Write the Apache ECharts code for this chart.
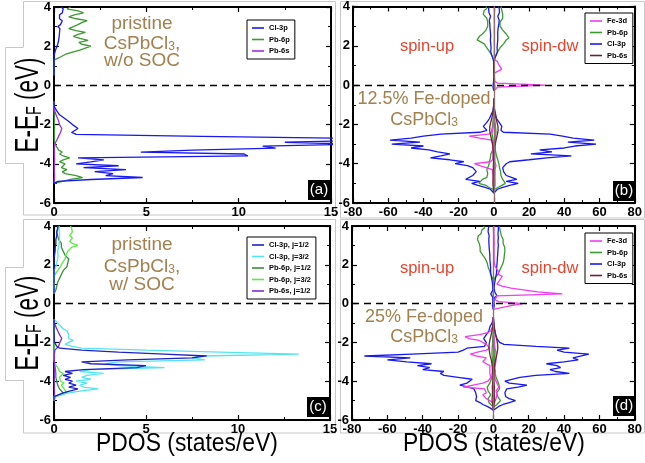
<!DOCTYPE html>
<html>
<head>
<meta charset="utf-8">
<script src="https://cdn.jsdelivr.net/npm/echarts@6/dist/echarts.min.js"></script>
<style>
  html, body { margin: 0; padding: 0; background: #fff; }
  #main { width: 645px; height: 463px; }
</style>
</head>
<body>
<div id="main"></div>
<script>
// energy grids (eV)
const E_VB_AC = [-5.0,-4.9,-4.8,-4.7,-4.6,-4.5,-4.4,-4.3,-4.2,-4.1,-4.0,-3.9,-3.8,-3.7,-3.6,-3.5,-3.4,-3.3,-3.2,-3.1,-3.0,-2.9,-2.8,-2.7,-2.6,-2.5,-2.4,-2.3,-2.2,-2.1,-2.0,-1.9,-1.8,-1.7,-1.6,-1.5,-1.4,-1.3,-1.2,-1.1,-1.0,-0.9,-0.8];
const E_CB_AC = [0.5,0.6,0.7,0.8,0.9,1.0,1.1,1.2,1.3,1.4,1.5,1.6,1.7,1.8,1.9,2.0,2.1,2.2,2.3,2.4,2.5,2.6,2.7,2.8,2.9,3.0,3.1,3.2,3.3,3.4,3.5,3.6,3.7,3.8,3.9,4.0];
const E_VB_BD = [-5.5,-5.4,-5.3,-5.2,-5.1,-5.0,-4.9,-4.8,-4.7,-4.6,-4.5,-4.4,-4.3,-4.2,-4.1,-4.0,-3.9,-3.8,-3.7,-3.6,-3.5,-3.4,-3.3,-3.2,-3.1,-3.0,-2.9,-2.8,-2.7,-2.6,-2.5,-2.4,-2.3,-2.2,-2.1,-2.0,-1.9,-1.8,-1.7,-1.6,-1.5,-1.4,-1.3,-1.2,-1.1,-1.0,-0.9,-0.8,-0.7];
const E_CB_BD = [-0.3,-0.2,-0.1,0.0,0.1,0.2,0.3,0.4,0.5,0.6,0.7,0.8,0.9,1.0,1.1,1.2,1.3,1.4,1.5,1.6,1.7,1.8,1.9,2.0,2.1,2.2,2.3,2.4,2.5,2.6,2.7,2.8,2.9,3.0,3.1,3.2,3.3,3.4,3.5,3.6,3.7,3.8,3.9,4.0];

// (a) pristine, w/o SOC
const a_cl3p_vb = [0,0.2,2.0,4.8,2.8,3.2,2.2,3.9,1.6,3.5, 1.2,2.0,2.7,1.3,10.5,10.3,4.7,7.5,12.0,11.3, 16.5,12.5,17,15.5,8,1.2,0.95,0.9,1.3,1.4, 1.0,0.9,0.75,0.6,0.45,0.3,0.2,0.15,0.08,0.03, 0,0,0];
const a_cl3p_cb = [0,0,0,0,0,0,0,0,0,0,0, 0,0.05,0.1,0.12,0.15,0.2,0.18,0.25,0.2,0.28,0.22,0.3,0.25,0.32,0.2,0.35,0.28,0.45,0.3,0.4,0.3,0.45,0.35,0.5,0.4];
const a_pb6p_vb = [0,0.1,0.9,1.55,1.2,0.6,0.45,0.7,0.4,0.35, 0.6,0.3,0.5,0.85,0.5,0.3,0.45,0.25,0.2,0.12, 0.05,0.03,0.02,0.02,0.02,0.02,0.02,0.02,0.02,0.03, 0.03,0.02,0.02,0.02,0.01,0.01,0,0,0,0, 0,0,0];
const a_pb6p_cb = [0,0,0,0,0,0,0,0, 0.02,0.25,0.45,0.65,1.0,1.4,1.7,2.0,1.5,1.35, 1.85,1.4,1.05,1.3,1.7,1.2,0.8,0.9,1.3,1.5, 1.8,1.2,0.8,1.1,1.6,1.3,0.7,0.9];
const a_pb6s_vb = [0,0,0.02,0.03,0.03,0.02,0.02,0.03,0.02,0.02, 0.02,0.02,0.03,0.02,0.02,0.02,0.02,0.02,0.02,0.02, 0.03,0.08,0.15,0.2,0.25,0.3,0.35,0.38,0.42,0.35, 0.3,0.32,0.25,0.2,0.15,0.1,0.07,0.04,0.02,0, 0,0,0];

// (c) pristine, w/ SOC
const c_cl12_vb = [0,0,0,0.1,0.5,0.9,1.3,0.8,1.2,0.8, 1.0,0.6,0.9,0.5,1.0,0.6,1.6,4.5,5.0,2.0, 1.5,4.0,7.5,8.3,6.0,3.5,1.5,0.3,0.15,0.05, 0.02,0.02,0.02,0.01,0.01,0,0,0,0,0, 0,0,0];
const c_cl32_vb = [0,0,0,0.3,0.8,1.5,2.4,1.6,1.4,1.8, 1.2,2.0,1.5,1.8,2.7,1.4,2.0,6.0,3.5,2.8, 3.5,8.2,7.5,8.0,13.3,9.0,5.0,1.5,1.0,0.6, 0.8,1.05,0.8,0.7,0.8,0.75,0.7,0.5,0.4,0.3, 0.2,0.1,0];
const c_pb6p12_vb = [0,0,0.05,0.3,0.5,0.4,0.3,0.35,0.2,0.25, 0.15,0.2,0.1,0.15,0.1,0.12,0.08,0.06,0.05,0.03, 0.02,0.02,0.02,0.02,0.02,0.02,0.02,0.02,0.02,0.02, 0.02,0.02,0.02,0.02,0.02,0.01,0.01,0.01,0,0, 0,0,0];
const c_pb6p32_vb = [0,0,0.1,0.4,0.7,0.6,0.55,0.5,0.4,0.55, 0.35,0.45,0.3,0.4,0.5,0.3,0.25,0.2,0.15,0.05, 0,0,0,0,0,0,0,0,0,0, 0,0,0,0,0,0,0,0,0,0, 0,0,0];
const c_pb6s_vb = [0,0,0.02,0.02,0.03,0.02,0.02,0.02,0.02,0.02, 0.02,0.02,0.02,0.02,0.02,0.02,0.02,0.02,0.02,0.02, 0.02,0.02,0.02,0.02,0.02,0.02,0.05,0.15,0.25,0.3, 0.32,0.38,0.42,0.35,0.3,0.28,0.2,0.15,0.1,0.06, 0.03,0.01,0];
const c_cl12_cb = [0,0,0,0,0,0,0,0,0,0, 0,0,0,0,0,0,0,0,0,0, 0.03,0.05,0.06,0.08,0.07,0.1,0.1,0.12,0.1,0.12, 0.15,0.12,0.15,0.18,0.2,0.2];
const c_cl32_cb = [0,0,0,0,0,0,0,0,0,0,0,0,0, 0.05,0.1,0.12,0.15,0.18,0.2,0.18,0.22, 0.25,0.2,0.28,0.25,0.3,0.28,0.35,0.3,0.32,0.3, 0.35,0.3,0.3,0.25,0.3];
const c_pb6p12_cb = [0,0.05,0.1,0.12,0.15,0.18,0.2,0.25,0.3,0.35, 0.4,0.45,0.5,0.6,0.7,0.8,0.75,0.7,0.8,0.7, 0.6,0.55,0.5,0.45,0.4,0.35,0.4,0.3,0.25,0.3, 0.2,0.2,0.15,0.2,0.25,0.3];
const c_pb6p32_cb = [0,0,0,0,0,0,0,0,0,0, 0.05,0.15,0.2,0.3,0.35,0.4,0.45,0.5,0.6,0.55, 0.65,0.7,0.75,0.8,0.95,1.3,1.0,0.85,0.9,1.0, 0.85,0.9,1.0,1.1,0.95,0.9];

// (b) 12.5% Fe-doped, spin-up plotted negative
const b_fe_up_vb = [0,0,0,0,-0.2,-0.3,-0.3,-0.4,-0.4,-0.5, -0.5,-0.6,-0.8,-1.5,-8,-11,-2,-0.8,-0.6,-0.5, -0.5,-0.5,-0.5,-0.6,-0.6,-0.6,-0.8,-1.2,-8,-14, -3,-1,-0.6,-0.5,-0.4,-0.3,-0.3,-0.2,-0.2,-0.1, 0,0,0,0,0,0,0,0,0];
const b_fe_dw_vb = [0,0,0,0,0.2,0.3,0.3,0.4,0.4,0.5, 0.5,0.5,0.6,0.8,1.2,1,0.6,0.5,0.5,0.5, 0.5,0.5,0.5,0.5,0.6,0.6,0.6,0.8,1,1.2, 1,0.8,0.6,0.5,0.4,0.3,0.3,0.2,0.2,0.1, 0,0,0,0,0,0,0,0,0];
const b_fe_dw_cb = [0,0.3,2,29,2,0.5,0.3,0.3,0.3,0.3, 2,4.5,3.5,3,2.5,2,0.3,0.3,0.2,0.2, 0.2,0.2,0.3,0.2,0.2,0.3,0.2,0.2,0.3,0.2, 0.2,0.3,0.2,0.2,0.3,0.2,0.2,0.3,0.2,0.2, 0.3,0.2,0.2,0.3];
const b_pb6p_up_vb = [0,0,-0.5,-3,-4.5,-8.5,-8,-6.5,-4,-3, -3.5,-4,-4,-3.5,-3,-3,-2.5,-2,-2,-1.5, -1.7,-1,-0.6,-0.5,-0.4,-0.3,-0.3,-0.4,-0.6,-0.8, -1,-1.2,-1.2,-1,-0.8,-0.8,-0.6,-0.4,-0.3,-0.2, -0.15,-0.1,0,0,0,0,0,0,0];
const b_pb6p_dw_vb = [0,0,0.5,2.5,4.5,6.5,6,5,4.5,4, 4,3.8,3.5,3.2,3,2.8,2.6,2.2,1.8,1.5, 1.2,1,0.6,0.5,0.4,0.3,0.3,0.4,0.6,0.8, 1,1.2,1.2,1,0.8,0.8,0.6,0.4,0.3,0.2, 0.15,0.1,0,0,0,0,0,0,0];
const b_pb6p_up_cb = [0,0,0,0,0,0,0,0,0,0,0,0,0,0,0, 0,-0.3,-0.6,-1,-1.5,-2.5,-3.2,-4,-4.5,-5.5,-6.5,-9.5,-9,-8,-6.5,-6,-4.5,-5,-3.5,-3,-3.5,-4.5,-4,-5,-6,-7,-5.5,-4,-4.5];
const b_pb6p_dw_cb = [0,0,0,0,0,0,0,0,0,0,0,0,0,0,0, 0,0.3,0.6,1,1.5,2.2,3,3.5,4.5,5.5,6,7,8.5,8,7,6.5,5,4,3.5,3,3.5,4.5,5,5.5,5,5.5,4.5,4.5,4];
const b_cl3p_up_vb = [0,-0.5,-2,-5,-9,-12.6,-8,-16,-16,-12, -11,-10,-10,-12,-15,-22,-17,-25,-36,-30, -25,-32,-37,-47,-40,-58,-42,-59,-47,-40, -30,-8,-4,-5,-6,-5.5,-4,-3,-2.5,-2, -1.5,-1,-0.5,-0.3,-0.2,0,0,0,0];
const b_cl3p_dw_vb = [0,0.5,2,5,9,13.8,7,13,10,7, 6,5.5,5,5,5.5,7,9,20,30,44, 21,33,26,40,46,58,42,57,45,39, 32,5.4,4,4.5,4.5,4,3,2,1.5,1.2, 1,0.8,0.5,0.3,0.1,0,0,0,0];
const b_cl3p_up_cb = [0,0,-0.5,-1.5,-0.3,0,0,0,0,0, 0,0,0,0,0,0,-0.3,-0.8,-1.2,-1.5, -1.8,-2,-1.6,-2.2,-1.8,-2.5,-2,-2.2,-1.8,-2.4, -2,-2.5,-2.2,-1.8,-2.3,-2,-2.6,-2.2,-1.9,-2.4, -2.8,-2.2,-3,-2.5];
const b_cl3p_dw_cb = [0,0,0.5,1.5,0.3,0,0,0,0,0, 0,0,0,0,0,0,0.3,0.8,1.2,1.6, 2,2.2,1.8,2.5,2,2.6,2.2,2.8,2.2,2.5, 2.2,3,2.4,2.2,2.8,2.4,3,2.5,2.2,2.8, 3.2,2.5,3,2.6];
const b_pb6s_up_vb = [0,0,-0.2,-0.4,-0.5,-0.6,-0.5,-0.5,-0.4,-0.4, -0.4,-0.3,-0.3,-0.3,-0.3,-0.3,-0.2,-0.2,-0.2,-0.2, -0.3,-0.3,-0.4,-0.5,-0.6,-0.8,-1,-1.2,-1.5,-1.8, -2,-2.2,-2.4,-2.5,-2.3,-2,-1.8,-1.5,-1.2,-1, -0.8,-0.6,-0.4,-0.3,-0.2,-0.1,0,0,0];
const b_pb6s_dw_vb = [0,0,0.2,0.4,0.5,0.6,0.5,0.5,0.4,0.4, 0.4,0.3,0.3,0.3,0.3,0.3,0.2,0.2,0.2,0.2, 0.3,0.3,0.4,0.5,0.6,0.8,1,1.2,1.5,1.8, 2,2.2,2.4,2.5,2.3,2,1.8,1.5,1.2,1, 0.8,0.6,0.4,0.3,0.2,0.1,0,0,0];

// (d) 25% Fe-doped
const d_fe_up_vb = [0,0,0,0,-0.5,-2,-4,-5,-6,-4, -3,-5,-17,-18,-6,-3,-2,-1.5,-1.5,-2, -3,-2,-1.5,-2,-4,-6,-5,-4,-10,-13, -9,-4,-2,-2.5,-4,-5,-8,-14,-16,-8, -3,-1.5,-1,-0.5,-0.3,0,0,0,0];
const d_fe_dw_vb = [0,0,0,0.3,0.6,1,1.5,2,2,1.5, 1.5,2,3,3.5,2,1.5,1,0.8,0.8,1, 1.2,1,0.8,1,1.2,1.5,1.5,1.2,1.5,2, 1.5,1,0.8,0.8,0.6,0.5,0.5,0.4,0.3,0.3, 0.2,0.2,0.1,0.1,0,0,0,0,0];
const d_fe_dw_cb = [0,0.5,10,16.7,3,1,0.5,2,39,25, 18,10,5,2,2.5,3.5,4.5,5,3,2, 2.6,1.5,1,0.8,0.5,0.5,0.4,0.5,0.4,0.5, 0.4,0.5,0.4,0.4,0.5,0.4,0.4,0.3,0.4,0.3, 0.3,0.4,0.3,0.3];
const d_pb6p_up_vb = [0,0,-0.5,-1.5,-2.5,-3,-3,-2.5,-1.5,-2, -3,-4,-3.5,-3,-2,-1.7,-1.2,-1,-0.8,-0.8, -0.6,-0.5,-0.4,-0.4,-0.4,-0.5,-0.5,-0.6,-0.7,-0.8, -0.8,-0.8,-0.7,-0.6,-0.5,-0.5,-0.4,-0.3,-0.3,-0.2, -0.2,-0.1,0,0,0,0,0,0,0];
const d_pb6p_dw_vb = [0,0,0.5,2,3,4,3.5,2.5,1.5,1.8, 2.5,3.5,3.6,3.2,2.8,2.5,2,1.5,1.2,1, 0.6,0.5,0.4,0.4,0.4,0.5,0.5,0.6,0.7,0.8, 0.8,0.8,0.7,0.6,0.5,0.5,0.4,0.3,0.3,0.2, 0.2,0.1,0,0,0,0,0,0,0];
const d_pb6p_up_cb = [0,0,0,0,0,0,0,0,0,0,0,0,0,0,0, 0,-0.4,-1,-1.5,-2,-2.2,-2.5,-3,-3.2,-3.5,-4,-4.5,-5.5,-6,-7,-7.5,-7,-7.5,-8,-8,-8.5,-9,-9.5,-8.5,-7,-6,-6.5,-5,-5.5];
const d_pb6p_dw_cb = [0,0,0,0,0,0,0,0,0,0,0,0,0,0,0, 0,0.5,1.5,2.5,3,3.5,4,4.5,5,5.5,5.5,6,6,6.2,6,6.5,6,6.4,6,5.5,5,5.5,5,4.5,4,4,3.5,3.5,3];
const d_cl3p_up_vb = [0,-1.5,-3.5,-6,-7.5,-10,-10.5,-9.5,-9.5,-10, -11,-11,-14,-19,-15,-14,-12,-20,-28,-30, -28,-40,-36,-43,-35,-49,-60,-47,-73,-46, -20,-17,-15,-5,-4.5,-4,-5,-5.5,-5.8,-4, -3,-2.5,-2,-2,-1.2,-0.8,-0.4,-0.1,0];
const d_cl3p_dw_vb = [0,1,3,5.5,9,12.5,9,7,6.5,6.5, 7,7.5,14,19,9,6.5,7,15,24,43, 35,32,38,36,30,40,48,45,44,54, 40,36,43,24,6,3.5,2.6,2,1.6,1.3, 1,0.8,0.6,0.5,0.4,0.3,0.2,0.1,0];
const d_cl3p_up_cb = [0,0,-0.5,-1,-0.3,0,-0.3,-1,-1.5,-0.5, -0.3,-0.3,-0.4,-0.5,-0.6,-0.8,-1,-1.2,-1.4,-1.5, -1.6,-1.8,-1.6,-2,-1.8,-2.2,-2,-2.4,-2,-2.5, -2.2,-2.6,-2.4,-2.8,-2.5,-3,-2.6,-2.8,-2.4,-2.8, -3,-2.5,-2.8,-2.4];
const d_cl3p_dw_cb = [0,0,0.5,1,0.3,0,0.5,2,2.6,0.8, 0.4,0.4,0.5,0.6,0.8,1,1.2,1.4,1.6,1.8, 2,1.8,2.2,2,2.5,2.2,2.6,2.3,2.8,2.5, 3,2.6,3.2,2.8,3,2.6,3.2,2.8,3,2.6, 3,2.8,3.2,2.8];
const d_pb6s_up_vb = [0,0,-0.2,-0.4,-0.6,-0.8,-0.7,-0.6,-0.5,-0.5, -0.5,-0.6,-0.6,-0.5,-0.4,-0.4,-0.3,-0.3,-0.3,-0.3, -0.4,-0.5,-0.6,-0.7,-0.8,-1,-1.2,-1.5,-1.8,-2, -2.2,-2.4,-2.5,-2.6,-2.4,-2.2,-2,-1.8,-1.5,-1.2, -1,-0.8,-0.6,-0.4,-0.3,-0.2,-0.1,0,0];
const d_pb6s_dw_vb = [0,0,0.2,0.4,0.6,0.8,0.7,0.6,0.5,0.5, 0.5,0.6,0.6,0.5,0.4,0.4,0.3,0.3,0.3,0.3, 0.4,0.5,0.6,0.7,0.8,1,1.2,1.5,1.8,2, 2.2,2.4,2.5,2.6,2.4,2.2,2,1.8,1.5,1.2, 1,0.8,0.6,0.4,0.3,0.2,0.1,0,0];

const FONT = "'Liberation Sans', Arial, Helvetica, sans-serif";
const BLUE = '#1818f0', GREEN = '#3c9b30', PURPLE = '#a030d8', MAGENTA = '#f23cf0', MAROON = '#6a2232';
const DBLUE = '#2020c8', CYAN = '#55e4f2', DGREEN = '#3a8c3a', LGREEN = '#5eea46', VIOLET = '#7d2fd0';
const BROWN = '#a3804f', RED = '#e5452f';

var myChart = echarts.init(document.getElementById('main'));

// x = PDOS, y = energy
function pairs(E, v) {
    return E.map((e, i) => [v[i], e]);
}

var series = [];
function add(name, E, v, color, gi, extra) {
    series.push(Object.assign({
        type: 'line', name: name, data: pairs(E, v),
        xAxisIndex: gi, yAxisIndex: gi,
        symbol: 'none', silent: true, animation: false,
        lineStyle: {color: color, width: 1.3}, itemStyle: {color: color}
    }, extra || {}));
}

function zeroLines(vertical) {
    var data = [{yAxis: 0, lineStyle: {type: [7, 5], color: '#000', width: 1.3}}];
    if (vertical) data.push({xAxis: 0, lineStyle: {type: 'solid', color: '#8e6f6f', width: 1.3}});
    return {silent: true, symbol: 'none', animation: false, label: {show: false}, data: data};
}

// (a)
add('Pb-6p', E_VB_AC, a_pb6p_vb, GREEN, 0, {markLine: zeroLines(false)});
add('Pb-6p', E_CB_AC, a_pb6p_cb, GREEN, 0);
add('Pb-6s', E_VB_AC, a_pb6s_vb, PURPLE, 0);
add('Cl-3p', E_VB_AC, a_cl3p_vb, BLUE, 0);
add('Cl-3p', E_CB_AC, a_cl3p_cb, BLUE, 0);
// (b)
add('Pb-6p', E_VB_BD, b_pb6p_up_vb, GREEN, 1);
add('Pb-6p', E_VB_BD, b_pb6p_dw_vb, GREEN, 1);
add('Pb-6p', E_CB_BD, b_pb6p_up_cb, GREEN, 1);
add('Pb-6p', E_CB_BD, b_pb6p_dw_cb, GREEN, 1);
add('Cl-3p', E_VB_BD, b_cl3p_up_vb, BLUE, 1);
add('Cl-3p', E_VB_BD, b_cl3p_dw_vb, BLUE, 1);
add('Cl-3p', E_CB_BD, b_cl3p_up_cb, BLUE, 1);
add('Cl-3p', E_CB_BD, b_cl3p_dw_cb, BLUE, 1);
add('Fe-3d', E_VB_BD, b_fe_up_vb, MAGENTA, 1);
add('Fe-3d', E_VB_BD, b_fe_dw_vb, MAGENTA, 1);
add('Fe-3d', E_CB_BD, b_fe_dw_cb, MAGENTA, 1);
add('Pb-6s', E_VB_BD, b_pb6s_up_vb, MAROON, 1);
add('Pb-6s', E_VB_BD, b_pb6s_dw_vb, MAROON, 1, {markLine: zeroLines(true)});
// (c)
add('Pb-6p, j=1/2', E_VB_AC, c_pb6p12_vb, DGREEN, 2, {markLine: zeroLines(false)});
add('Pb-6p, j=1/2', E_CB_AC, c_pb6p12_cb, DGREEN, 2);
add('Pb-6p, j=3/2', E_VB_AC, c_pb6p32_vb, LGREEN, 2);
add('Pb-6p, j=3/2', E_CB_AC, c_pb6p32_cb, LGREEN, 2);
add('Pb-6s, j=1/2', E_VB_AC, c_pb6s_vb, VIOLET, 2);
add('Cl-3p, j=3/2', E_VB_AC, c_cl32_vb, CYAN, 2);
add('Cl-3p, j=3/2', E_CB_AC, c_cl32_cb, CYAN, 2);
add('Cl-3p, j=1/2', E_VB_AC, c_cl12_vb, DBLUE, 2);
add('Cl-3p, j=1/2', E_CB_AC, c_cl12_cb, DBLUE, 2);
// (d)
add('Pb-6p', E_VB_BD, d_pb6p_up_vb, GREEN, 3);
add('Pb-6p', E_VB_BD, d_pb6p_dw_vb, GREEN, 3);
add('Pb-6p', E_CB_BD, d_pb6p_up_cb, GREEN, 3);
add('Pb-6p', E_CB_BD, d_pb6p_dw_cb, GREEN, 3);
add('Cl-3p', E_VB_BD, d_cl3p_up_vb, BLUE, 3);
add('Cl-3p', E_VB_BD, d_cl3p_dw_vb, BLUE, 3);
add('Cl-3p', E_CB_BD, d_cl3p_up_cb, BLUE, 3);
add('Cl-3p', E_CB_BD, d_cl3p_dw_cb, BLUE, 3);
add('Fe-3d', E_VB_BD, d_fe_up_vb, MAGENTA, 3);
add('Fe-3d', E_VB_BD, d_fe_dw_vb, MAGENTA, 3);
add('Fe-3d', E_CB_BD, d_fe_dw_cb, MAGENTA, 3);
add('Pb-6s', E_VB_BD, d_pb6s_up_vb, MAROON, 3);
add('Pb-6s', E_VB_BD, d_pb6s_dw_vb, MAROON, 3, {markLine: zeroLines(true)});

function axis(gi, min, max, interval, pos, labels) {
    return {
        type: 'value', gridIndex: gi, position: pos, min: min, max: max, interval: interval,
        axisLine: {show: true, onZero: false, lineStyle: {color: '#000', width: 2}},
        axisTick: {show: true, inside: true, length: 5, lineStyle: {color: '#000', width: 1.2}},
        minorTick: {show: true, splitNumber: 2, length: 3, lineStyle: {color: '#000', width: 1}},
        splitLine: {show: false},
        axisLabel: {show: labels, color: '#000', fontSize: 13, fontWeight: 'bold', fontFamily: FONT, margin: 3}
    };
}

function legend(left, top, items) {
    return {
        orient: 'vertical', left: left, top: top, icon: 'rect',
        itemWidth: 12, itemHeight: 1.6, itemGap: 1.5, padding: [3, 5, 3, 5],
        borderColor: '#000', borderWidth: 1, backgroundColor: '#fff', selectedMode: false,
        textStyle: {fontSize: 7.5, fontWeight: 'bold', fontFamily: FONT, color: '#000', lineHeight: 10},
        data: items.map(it => ({name: it[0], itemStyle: {color: it[1]}}))
    };
}

function txt(x, y, text, size, color, extra) {
    return Object.assign({
        type: 'text', x: x, y: y, z: 100,
        style: {text: text, fontSize: size, fontFamily: FONT, fill: color, align: 'center', verticalAlign: 'middle'}
    }, extra || {});
}
function formula(x, y, pre, post, size, color) {
    return {
        type: 'text', x: x, y: y, z: 100,
        style: {
            text: '{n|' + pre + '}{s|3}' + (post ? '{n|' + post + '}' : ''),
            fill: color, align: 'center', verticalAlign: 'middle',
            rich: {
                n: {fontSize: size, fontFamily: FONT, verticalAlign: 'bottom', lineHeight: 22},
                s: {fontSize: 12, fontFamily: FONT, verticalAlign: 'bottom', lineHeight: 12}
            }
        }
    };
}
function eLabel(x, y) {
    return {
        type: 'text', x: x, y: y, rotation: Math.PI / 2, scaleX: 0.66, z: 100,
        style: {
            text: '{a|E-E}{b|F}{a| (eV)}', fill: '#000', align: 'center', verticalAlign: 'middle',
            rich: {
                a: {fontSize: 34, fontFamily: FONT, verticalAlign: 'bottom', lineHeight: 40},
                b: {fontSize: 22, fontFamily: FONT, verticalAlign: 'bottom', lineHeight: 32}
            }
        }
    };
}
function tag(x, y, text) {
    return [
        {type: 'rect', z: 100, shape: {x: x, y: y, width: 22, height: 20}, style: {fill: '#000'}},
        txt(x + 11, y + 10, text, 15, '#fff', {z: 101})
    ];
}
function frame(x, y, w, h) {
    return {type: 'rect', z: 0, shape: {x: x, y: y, width: w, height: h}, style: {fill: 'none', stroke: '#c8c8c8', lineWidth: 1}};
}
function labelBox(y0, y1) {
    return [
        {type: 'rect', z: 1, shape: {x: 5, y: y0, width: 20, height: y1 - y0}, style: {fill: '#fff'}},
        {type: 'polyline', z: 1, shape: {points: [[23.5, y0 + 0.5], [5.5, y0 + 0.5], [5.5, y1 + 0.5], [23.5, y1 + 0.5]]},
            style: {fill: 'none', stroke: '#c8c8c8', lineWidth: 1}}
    ];
}

var graphics = [
    frame(23.5, 1.5, 312, 213.5), frame(340.5, 1.5, 304, 216.5),
    frame(23.5, 219.5, 312, 213.5), frame(340.5, 219.5, 304, 213.5)
].concat(labelBox(47, 163), labelBox(267, 380), [
    eLabel(26, 105), eLabel(26, 323),
    txt(187, 444, 'PDOS (states/eV)', 26, '#000', {scaleX: 0.88}),
    txt(494, 444, 'PDOS (states/eV)', 26, '#000', {scaleX: 0.88}),
    txt(142, 24, 'pristine', 19, BROWN),
    formula(142, 42, 'CsPbCl', ',', 19, BROWN),
    txt(142, 61, 'w/o SOC', 19, BROWN),
    txt(142, 245, 'pristine', 19, BROWN),
    formula(142, 265, 'CsPbCl', ',', 19, BROWN),
    txt(142, 285, 'w/ SOC', 19, BROWN),
    txt(427, 46, 'spin-up', 16.5, RED),
    txt(550, 46, 'spin-dw', 16.5, RED),
    txt(424, 99, '12.5% Fe-doped', 18, BROWN),
    formula(424, 118, 'CsPbCl', '', 18, BROWN),
    txt(427, 268, 'spin-up', 16.5, RED),
    txt(550, 268, 'spin-dw', 16.5, RED),
    txt(424, 317, '25% Fe-doped', 18, BROWN),
    formula(424, 335, 'CsPbCl', '', 18, BROWN)
], tag(308, 180, '(a)'), tag(613, 181, '(b)'), tag(307, 397, '(c)'), tag(613, 396, '(d)'));

myChart.setOption({
    animation: false,
    backgroundColor: '#fff',
    grid: [
        {left: 54, top: 7, width: 277, height: 196},
        {left: 353, top: 6, width: 285, height: 197},
        {left: 54, top: 226, width: 276, height: 194},
        {left: 352, top: 226, width: 285, height: 194}
    ],
    xAxis: [
        axis(0, 0, 15, 5, 'bottom', true), axis(1, -80, 80, 20, 'bottom', true),
        axis(2, 0, 15, 5, 'bottom', true), axis(3, -80, 80, 20, 'bottom', true),
        axis(0, 0, 15, 5, 'top', false), axis(1, -80, 80, 20, 'top', false),
        axis(2, 0, 15, 5, 'top', false), axis(3, -80, 80, 20, 'top', false)
    ],
    yAxis: [
        axis(0, -6, 4, 2, 'left', true), axis(1, -6, 4, 2, 'left', true),
        axis(2, -6, 4, 2, 'left', true), axis(3, -6, 4, 2, 'left', true),
        axis(0, -6, 4, 2, 'right', false), axis(1, -6, 4, 2, 'right', false),
        axis(2, -6, 4, 2, 'right', false), axis(3, -6, 4, 2, 'right', false)
    ],
    legend: [
        legend(247, 20, [['Cl-3p', BLUE], ['Pb-6p', GREEN], ['Pb-6s', PURPLE]]),
        legend(585, 13, [['Fe-3d', MAGENTA], ['Pb-6p', GREEN], ['Cl-3p', BLUE], ['Pb-6s', MAROON]]),
        legend(247, 237, [['Cl-3p, j=1/2', DBLUE], ['Cl-3p, j=3/2', CYAN], ['Pb-6p, j=1/2', DGREEN],
            ['Pb-6p, j=3/2', LGREEN], ['Pb-6s, j=1/2', VIOLET]]),
        legend(585, 233, [['Fe-3d', MAGENTA], ['Pb-6p', GREEN], ['Cl-3p', BLUE], ['Pb-6s', MAROON]])
    ],
    graphic: graphics,
    series: series
});
</script>
</body>
</html>
